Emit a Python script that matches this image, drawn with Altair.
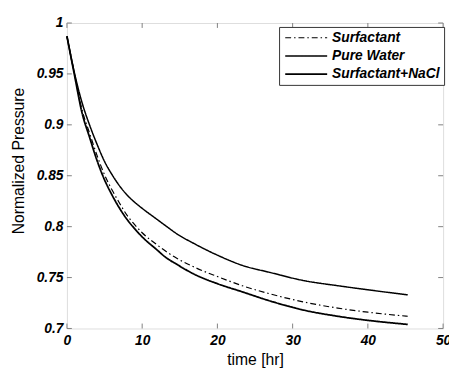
import altair as alt
import pandas as pd

t = [0, 1, 2, 3, 4, 5, 6, 7, 8, 9, 10, 12, 13.1, 14.6, 17, 20, 23.3, 27, 31.5, 36, 40, 45.3]
surfactant = [0.987, 0.950, 0.915, 0.892, 0.870, 0.851, 0.836, 0.823, 0.811, 0.802, 0.794, 0.782,
              0.776, 0.769, 0.760, 0.751, 0.742, 0.734, 0.726, 0.720, 0.716, 0.712]
pure_water = [0.987, 0.951, 0.922, 0.900, 0.881, 0.864, 0.851, 0.840, 0.831, 0.824, 0.818, 0.807,
              0.801, 0.793, 0.783, 0.772, 0.762, 0.755, 0.747, 0.742, 0.738, 0.733]
nacl = [0.987, 0.949, 0.912, 0.888, 0.865, 0.846, 0.831, 0.818, 0.807, 0.798, 0.790, 0.777,
        0.770, 0.763, 0.753, 0.744, 0.736, 0.727, 0.718, 0.712, 0.708, 0.704]
series = ["Surfactant", "Pure Water", "Surfactant+NaCl"]
x_ticks = [0, 10, 20, 30, 40, 50]
y_ticks = [0.7, 0.75, 0.8, 0.85, 0.9, 0.95, 1.0]

rows = []
for name, vals in zip(series, [surfactant, pure_water, nacl]):
    for ti, vi in zip(t, vals):
        rows.append({"t": ti, "p": vi, "series": name})
df = pd.DataFrame(rows)
xt = pd.DataFrame({"x": x_ticks})
yt = pd.DataFrame({"y": y_ticks})

W, H = 383, 311
FONT = "Liberation Sans"
xs = alt.Scale(domain=[0, 50], nice=False)
ys = alt.Scale(domain=[0.7, 1.0], nice=False)

lines = alt.Chart(df).mark_line(color="black", interpolate="monotone").encode(
    x=alt.X("t:Q", scale=xs, title="time [hr]",
            axis=alt.Axis(values=x_ticks, ticks=False, domain=False, grid=False,
                          labelFont=FONT, labelFontSize=14, labelFontStyle="italic",
                          labelFontWeight="bold", labelColor="black", labelPadding=5,
                          labelFlush=False,
                          titleFont=FONT, titleFontSize=16, titleFontWeight="normal",
                          titleColor="black", titleY=37, titleBaseline="alphabetic")),
    y=alt.Y("p:Q", scale=ys, title="Normalized Pressure",
            axis=alt.Axis(values=y_ticks, ticks=False, domain=False, grid=False, format="~g",
                          labelFont=FONT, labelFontSize=14, labelFontStyle="italic",
                          labelFontWeight="bold", labelColor="black", labelPadding=4,
                          labelFlush=False,
                          titleFont=FONT, titleFontSize=16, titleFontWeight="normal",
                          titleColor="black", titleX=-49, titleY=140, titleAngle=-90,
                          titleAlign="center", titleBaseline="middle")),
    strokeDash=alt.StrokeDash("series:N",
                              scale=alt.Scale(domain=series, range=[[6, 3, 1.5, 3], [1, 0], [1, 0]]),
                              legend=alt.Legend(title=None, orient="none", legendX=216, legendY=4,
                                                fillColor="white", strokeColor="#333333",
                                                padding=4, labelFont=FONT, labelFontSize=14,
                                                labelFontStyle="italic", labelFontWeight="bold",
                                                labelColor="black", symbolType="M-1,0H8",
                                                symbolSize=90, symbolStrokeColor="black",
                                                symbolStrokeWidth=1.5, rowPadding=4.5,
                                                labelOffset=36)),
    strokeWidth=alt.StrokeWidth("series:N", scale=alt.Scale(domain=series, range=[1.2, 1.8, 1.8]),
                                legend=None),
)

tick_color = "#808080"
bottom = alt.Chart(xt).mark_rule(color=tick_color).encode(
    x=alt.X("x:Q", scale=xs), y=alt.value(H), y2=alt.value(H - 5))
top = alt.Chart(xt).mark_rule(color=tick_color).encode(
    x=alt.X("x:Q", scale=xs), y=alt.value(0), y2=alt.value(5))
left = alt.Chart(yt).mark_rule(color=tick_color).encode(
    y=alt.Y("y:Q", scale=ys), x=alt.value(0), x2=alt.value(5))
right = alt.Chart(yt).mark_rule(color=tick_color).encode(
    y=alt.Y("y:Q", scale=ys), x=alt.value(W), x2=alt.value(W - 5))

chart = alt.layer(bottom, top, left, right, lines).properties(
    width=W, height=H,
    autosize=alt.AutoSizeParams(type="none"),
    padding={"left": 60, "top": 12, "right": 6, "bottom": 40},
).configure_view(stroke="#808080", strokeWidth=1.5).configure(background="white")

chart.save("out.html", embed_options={"renderer": "svg", "actions": False})
